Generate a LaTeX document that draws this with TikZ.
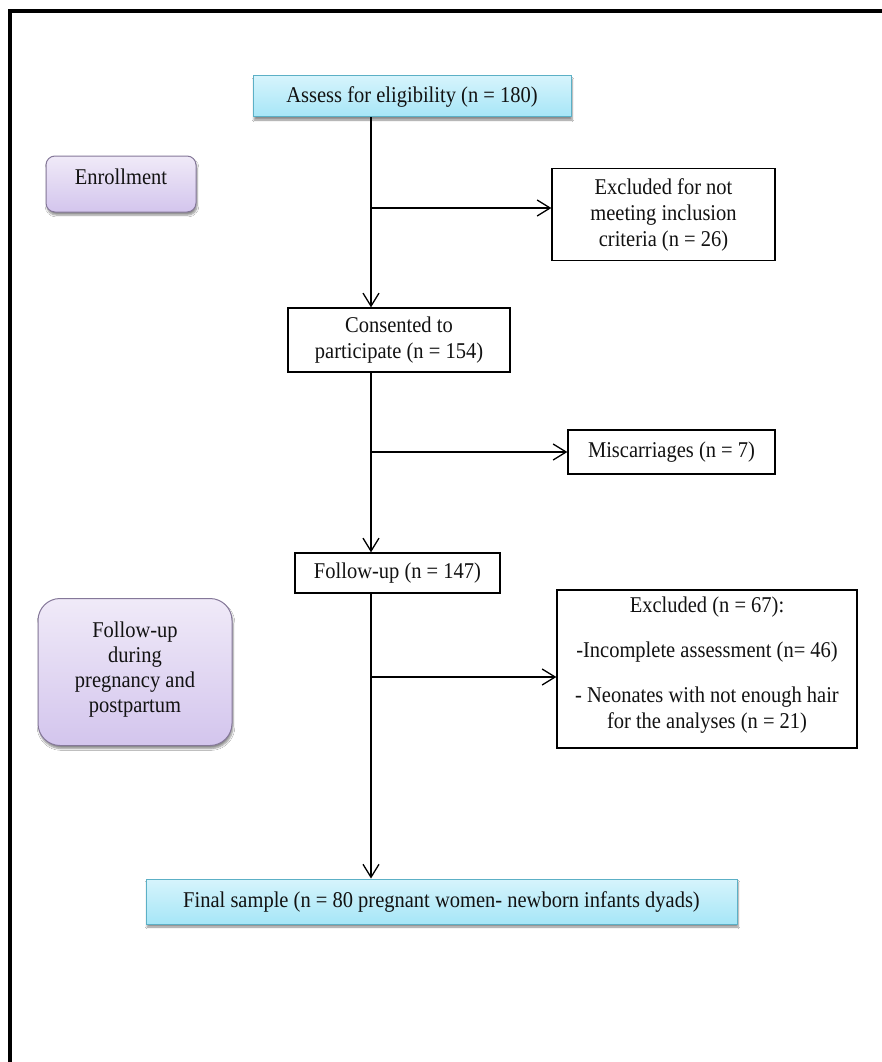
\documentclass[tikz,border=0pt]{standalone}
\usepackage{graphicx}
\usepackage{fontspec}
\setmainfont{Liberation Serif}
\usetikzlibrary{arrows.meta,shadows,shadows.blur}

\definecolor{cyanTop}{HTML}{D6F4FC}
\definecolor{cyanBot}{HTML}{A6E6F7}
\definecolor{cyanEdge}{HTML}{5CB0C6}
\definecolor{lilacTop}{HTML}{F0EAF8}
\definecolor{lilacBot}{HTML}{D3C5ED}
\definecolor{lilacEdge}{HTML}{857899}
\definecolor{inkcol}{HTML}{121212}

% slightly elongated lettering, one line at a time
\newcommand{\tallline}[1]{\scalebox{1}[1.1]{#1}}

\begin{document}
\begin{tikzpicture}[x=1pt,y=-1pt,
  every node/.style={font=\fontsize{20.5}{26}\selectfont, text=inkcol},
  plainbox/.style={draw=black, line width=1.3pt, fill=white, inner sep=0pt, align=center},
  bluebox/.style={draw=cyanEdge, line width=1pt, top color=cyanTop, bottom color=cyanBot,
    inner sep=0pt, align=center,
    blur shadow={shadow xshift=1pt, shadow yshift=-3pt, shadow blur steps=6, shadow opacity=45}},
  lilacbox/.style={draw=lilacEdge, line width=1pt, top color=lilacTop, bottom color=lilacBot,
    inner sep=0pt,
    blur shadow={shadow xshift=1pt, shadow yshift=-3pt, shadow blur steps=6, shadow opacity=45}},
  caption/.style={inner sep=0pt, align=center},
  flow/.style={line width=1.3pt, -{Straight Barb[length=13pt,width=16pt,line width=1.3pt]}}
]
\useasboundingbox (0,0) rectangle (882,1062);
\fill[white] (0,0) rectangle (882,1062);

% outer frame (top and left edges)
\draw[line width=4pt] (9.5,1062) -- (9.5,11.5) -- (882,11.5);

% main flow column
\coordinate (spine) at (371,0);

\node[bluebox, minimum width=318pt, minimum height=41pt] (assess) at (412,96.5)
  {\tallline{Assess for eligibility (n = 180)}};

\node[lilacbox, rounded corners=9pt, minimum width=150pt, minimum height=56pt] (enroll) at (121,184) {};
\node[caption] (enrolltext) at (121,177) {\tallline{Enrollment}};

\node[plainbox, minimum width=223pt, minimum height=92pt] (excl1) at (663.5,214.5)
  {\tallline{Excluded for not}\\\tallline{meeting inclusion}\\\tallline{criteria (n = 26)}};

\node[plainbox, minimum width=222pt, minimum height=64pt] (consent) at (399,340)
  {\tallline{Consented to}\\\tallline{participate (n = 154)}};

\node[plainbox, minimum width=207pt, minimum height=44pt] (misc) at (671.5,452)
  {\tallline{Miscarriages (n = 7)}};

\node[plainbox, minimum width=205pt, minimum height=40pt] (follow) at (397.5,573)
  {\tallline{Follow-up (n = 147)}};

\node[lilacbox, rounded corners=22pt, minimum width=194pt, minimum height=147pt] (fpurple) at (135,672) {};
\node[caption, font=\fontsize{20.5}{25}\selectfont] (fpurpletext) at (135,670)
  {\tallline{Follow-up}\\\tallline{during}\\\tallline{pregnancy and}\\\tallline{postpartum}};

\node[plainbox, minimum width=300pt, minimum height=158pt] (excl2) at (707,669) {};
\node[caption] (excl2text) at (707,665)
  {\tallline{Excluded (n = 67):}\\[19pt]\tallline{-Incomplete assessment (n= 46)}\\[19pt]\tallline{- Neonates with not enough hair}\\\tallline{for the analyses (n = 21)}};

\node[bluebox, minimum width=591pt, minimum height=45pt] (final) at (441.5,901.5)
  {\tallline{Final sample (n = 80 pregnant women- newborn infants dyads)}};

% branch points on the main column
\coordinate (j1) at (371,208);
\coordinate (j2) at (371,452);
\coordinate (j3) at (371,677);

\draw[flow] (assess.south -| spine) -- (consent.north -| spine);
\draw[flow] (consent.south -| spine) -- (follow.north -| spine);
\draw[flow] (follow.south -| spine) -- (final.north -| spine);
\draw[flow] (j1) -- (j1 -| excl1.west);
\draw[flow] (j2) -- (j2 -| misc.west);
\draw[flow] (j3) -- (j3 -| excl2.west);
\end{tikzpicture}
\end{document}
